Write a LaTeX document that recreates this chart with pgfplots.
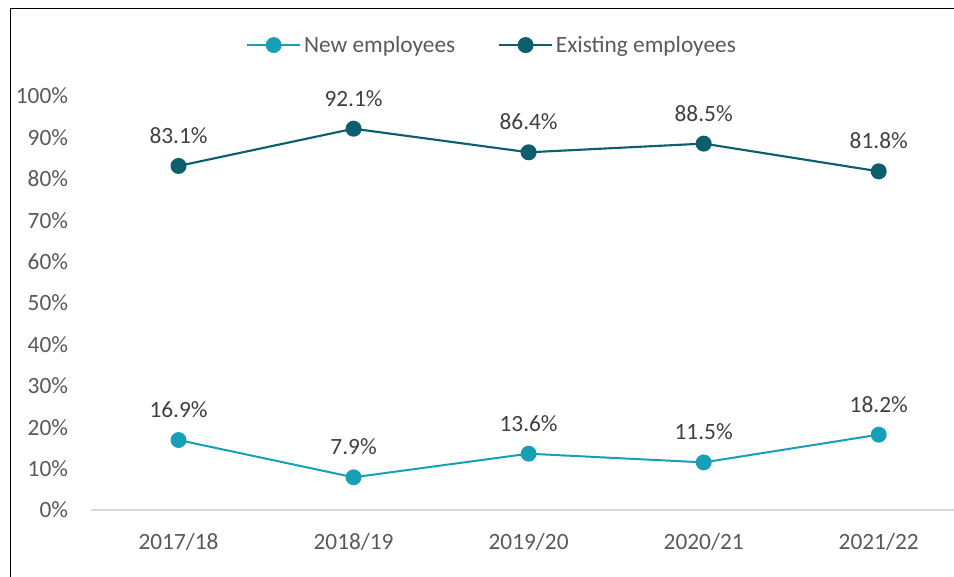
\documentclass[border=0pt]{standalone}
\usepackage{fontspec}
\setmainfont{Carlito}
\usepackage{pgfplots}
\pgfplotsset{compat=1.18}

\definecolor{newc}{HTML}{169FB6}
\definecolor{oldc}{HTML}{0D5F6E}
\definecolor{txt}{HTML}{595959}
\definecolor{lbl}{HTML}{404040}
\definecolor{axgray}{HTML}{D9D9D9}

\newcommand{\fs}{\fontsize{17.5}{21}\selectfont}

\begin{document}
\begin{tikzpicture}
% page is 954 x 577 px, 1px = 0.75pt
\path[use as bounding box] (0pt,0pt) rectangle (715.5pt,-432.75pt);
\draw[line width=1.1pt] (7.9pt,-432.75pt) -- (7.9pt,-6.4pt) -- (715.5pt,-6.4pt);
\begin{axis}[
    at={(68.25pt,-382.5pt)}, anchor=south west,
    scale only axis, width=647.25pt, height=310.5pt,
    xmin=-0.5, xmax=4.43, ymin=0, ymax=100,
    axis lines*=left,
    y axis line style={draw=none},
    x axis line style={draw=axgray, line width=1pt},
    major tick length=0pt,
    xtick={0,1,2,3,4},
    xticklabels={2017/18,2018/19,2019/20,2020/21,2021/22},
    ytick={0,10,...,100},
    yticklabels={0\%,10\%,20\%,30\%,40\%,50\%,60\%,70\%,80\%,90\%,100\%},
    yticklabel style={font=\fs, text=txt, inner sep=0pt, xshift=-17pt},
    xticklabel style={font=\fs, text=txt, inner sep=0pt, yshift=-17pt},
    clip=false,
    nodes near coords,
    point meta=explicit symbolic,
    every node near coord/.append style={font=\fs, text=lbl, inner sep=0pt, anchor=south, yshift=16pt},
    legend columns=2,
    legend style={at={(0.465,1.123)}, anchor=center, draw=none, fill=none,
        font=\fs, text=txt, /tikz/every even column/.append style={column sep=30pt}},
    legend image code/.code={\draw[mark repeat=2,mark phase=2] plot coordinates {(0pt,0pt)(20pt,0pt)(40pt,0pt)};},
]
\addplot[color=newc, line width=1.5pt, mark=*, mark size=5.2pt] coordinates {
    (0,16.9)[16.9\%] (1,7.9)[7.9\%] (2,13.6)[13.6\%] (3,11.5)[11.5\%] (4,18.2)[18.2\%]};
\addlegendentry{New employees}
\addplot[color=oldc, line width=1.6pt, mark=*, mark size=5.2pt] coordinates {
    (0,83.1)[83.1\%] (1,92.1)[92.1\%] (2,86.4)[86.4\%] (3,88.5)[88.5\%] (4,81.8)[81.8\%]};
\addlegendentry{Existing employees}
\end{axis}
\end{tikzpicture}
\end{document}
